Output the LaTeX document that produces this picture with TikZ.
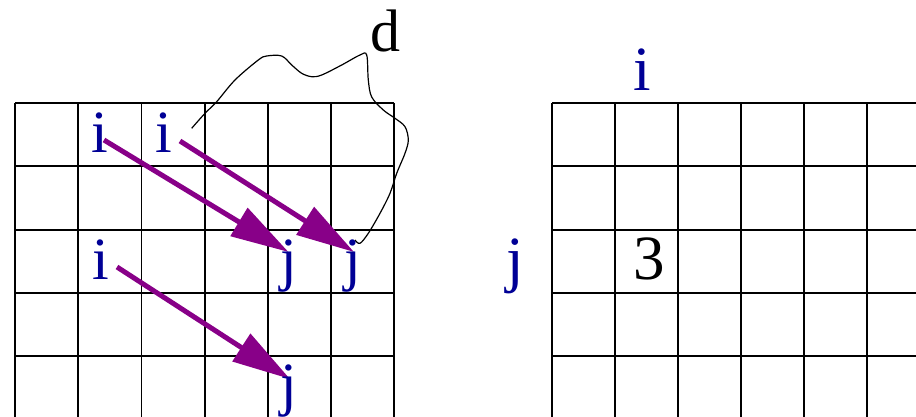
\documentclass[tikz,border=0pt]{standalone}
\usepackage{fontspec}
\setmainfont{Liberation Serif}
\usetikzlibrary{arrows.meta}
\definecolor{lblue}{RGB}{0,0,150}
\definecolor{apurple}{RGB}{136,0,136}
\begin{document}
\begin{tikzpicture}[x=1pt,y=-1pt,
  gridline/.style={line width=1.8pt,black},
  lbl/.style={anchor=base,inner sep=0pt,text=lblue,font=\fontsize{60}{60}\selectfont},
  rlbl/.style={lbl,font=\fontsize{63}{63}\selectfont},
  numlbl/.style={anchor=base,inner sep=0pt,text=black,font=\fontsize{63}{63}\selectfont},
  arr/.style={line width=5pt,apurple,-{Triangle[length=58pt,width=32pt]}},
  dcurve/.style={line width=1.2pt,black}]
\clip (0,0) rectangle (916,417);
\fill[white] (0,0) rectangle (916,417);
% left grid
\foreach \k in {0,...,6} \draw[gridline] (15+63.2*\k,103) -- (15+63.2*\k,420);
\foreach \k in {0,...,4} \draw[gridline] (15,103+63.3*\k) -- (394.2,103+63.3*\k);
% right grid
\foreach \k in {0,...,5} \draw[gridline] (552+63*\k,103) -- (552+63*\k,420);
\foreach \k in {0,...,4} \draw[gridline] (552,103+63.3*\k) -- (920,103+63.3*\k);
% d curve
\draw[dcurve] plot[smooth,tension=0.55] coordinates {
 (191.7,128.3) (205,113.3) (216.7,101.7) (235,80) (258.3,60) (266.7,56)
 (281.7,56) (291.7,65) (301.7,73.3) (311.7,76.7) (321.7,75) (341.7,65)
 (360,55) (366.7,55) (368.3,80) (371.7,97) (383.3,110) (395,118.3)
 (405,126.7) (408.3,140) (405,153.3) (396.7,173.3) (390,193.3) (380,213.3)
 (368.3,233.3) (360,243.3) (355,240)};
% arrows
\coordinate (a1s) at (104,140);   \coordinate (a1e) at (288.5,252);
\coordinate (a2s) at (180,141);   \coordinate (a2e) at (354,252);
\coordinate (a3s) at (117,267);   \coordinate (a3e) at (290,379);
\draw[arr] (a1s) -- (a1e);
\draw[arr] (a2s) -- (a2e);
\draw[arr] (a3s) -- (a3e);
% labels left
\node[lbl] (i1) at (100,153) {i};
\node[lbl] (i2) at (163.5,153) {i};
\node[lbl] (i3) at (101,279) {i};
\node[lbl] (j1) at (289,279) {j};
\node[lbl] (j2) at (353,279) {j};
\node[lbl] (j3) at (289,404) {j};
\node[anchor=base,inner sep=0pt,font=\fontsize{60}{60}\selectfont] (d) at (385,51.5) {d};
% labels right
\node[rlbl] (ri) at (642.7,90.7) {i};
\node[rlbl] (rj) at (515,280) {j};
\node[numlbl] (three) at (649,279.3) {3};
\end{tikzpicture}
\end{document}
